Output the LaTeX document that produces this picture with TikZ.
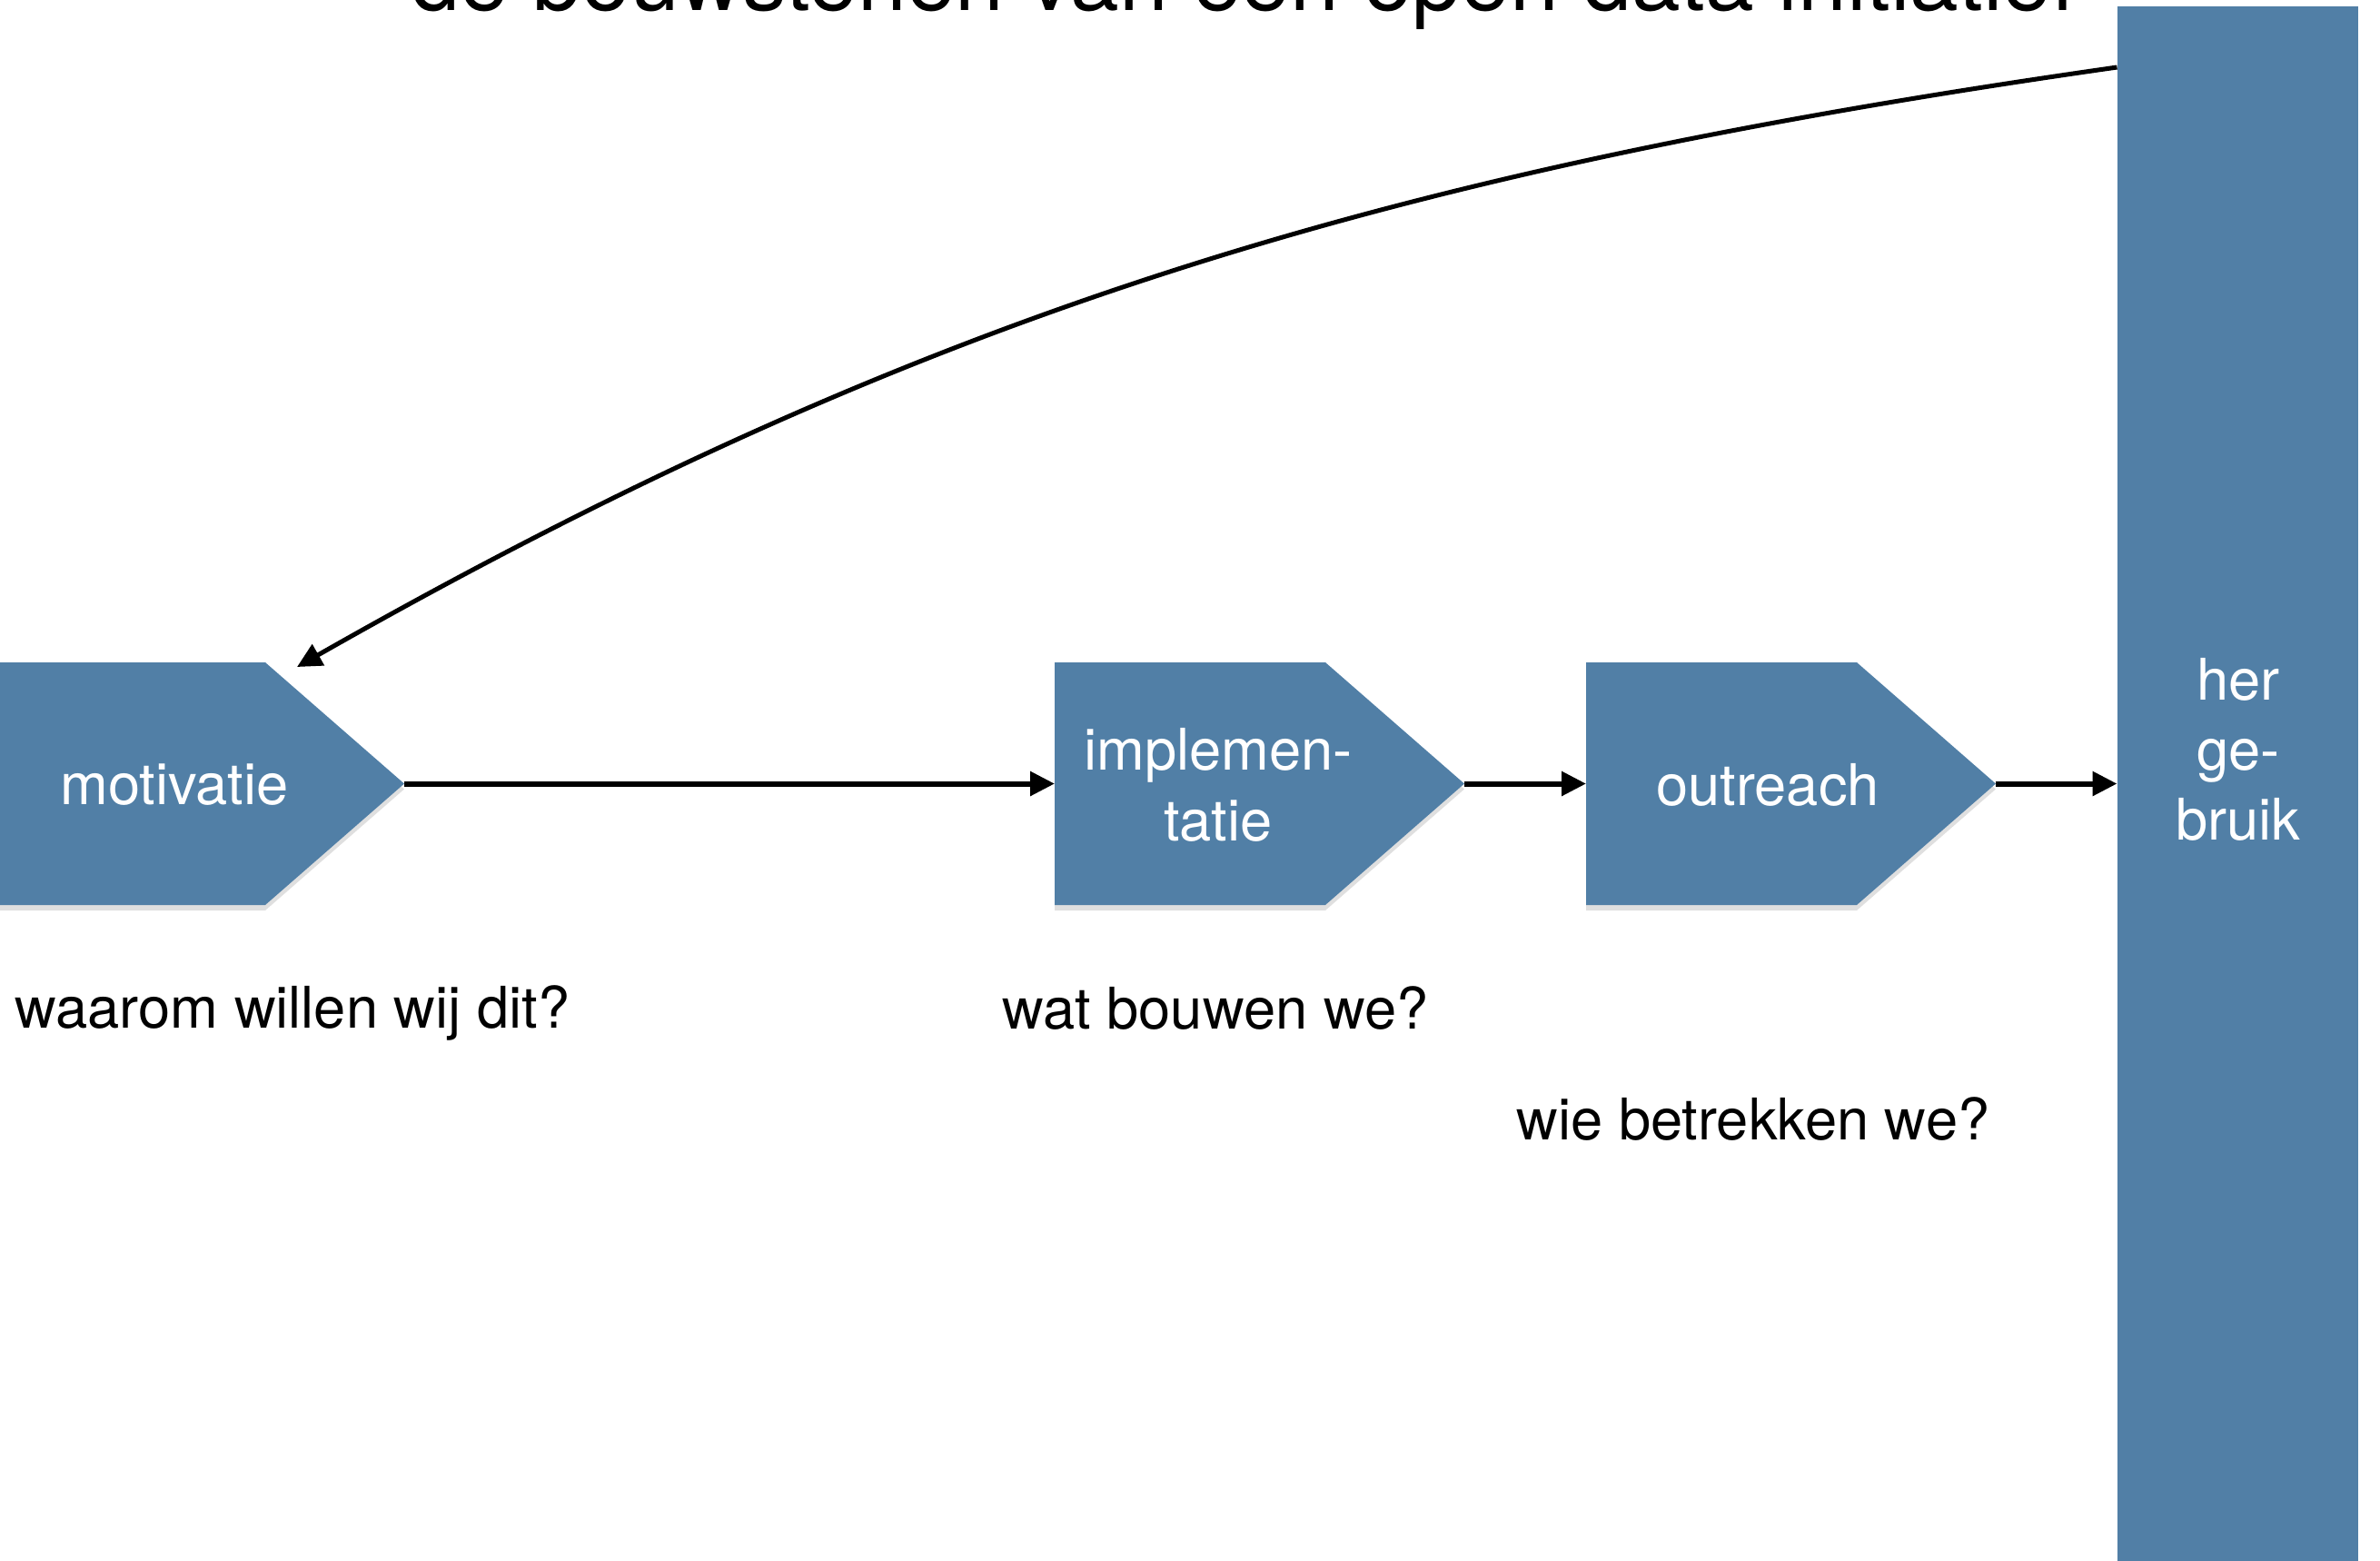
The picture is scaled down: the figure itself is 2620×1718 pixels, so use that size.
\documentclass[tikz,border=0pt]{standalone}
\usepackage{fontspec}
\setmainfont{TeX Gyre Heros}
\usetikzlibrary{arrows.meta, positioning, shadows}
\definecolor{stapblauw}{RGB}{81,127,166}

\begin{document}
\begin{tikzpicture}[x=0.1mm, y=-0.1mm,
    stap/.style={minimum width=29.8mm, minimum height=26.7mm, inner sep=0pt, outer sep=0pt},
    vorm/.style={fill=stapblauw, drop shadow={shadow xshift=0mm, shadow yshift=-0.6mm, opacity=0.25}},
    witlabel/.style={text=white, font=\fontsize{18}{22}\selectfont, align=center, inner sep=0pt},
    vraag/.style={font=\fontsize{18}{22}\selectfont, anchor=base, inner sep=0pt},
    pijl/.style={-{Triangle[length=2.7mm, width=2.6mm]}, line width=0.6mm},
    terugpijl/.style={pijl, line width=0.5mm}]
    \useasboundingbox (0,0) rectangle (2620,1718);

    % titel (valt deels buiten het beeld)
    \node[font=\fontsize{27.5}{33}\selectfont, anchor=base, inner sep=0pt] (titel) at (1369,11) {de bouwstenen van een open data initiatief};

    % hergebruik-balk
    \node[stap, vorm, minimum width=26.5mm, minimum height=171.1mm] (hergebruik) at (2463,862.5) {};
    \node[witlabel] (hergebruik-tekst) at (2464,825) {her\\ge-\\bruik};

    % stappen
    \foreach \naam/\x/\lx/\tekst in {mot/143/192/motivatie, impl/1310/1341/{implemen-\\tatie}, out/1895/1946/outreach} {
        \node[stap] (\naam) at (\x,862.5) {};
        \coordinate (\naam-punt) at ([xshift=15.3mm]\naam.east);
        \fill[vorm] (\naam.north west) -- (\naam.north east) -- (\naam-punt) -- (\naam.south east) -- (\naam.south west) -- cycle;
        \node[witlabel] (\naam-tekst) at (\lx,864) {\tekst};
    }

    % vragen
    \node[vraag] (waarom) at (322,1131) {waarom willen wij dit?};
    \node[vraag] (wat) at (1338,1132) {wat bouwen we?};
    \node[vraag] (wie) at (1930,1254) {wie betrekken we?};

    % pijlen
    \draw[pijl] (mot-punt) -- (impl.west);
    \draw[pijl] (impl-punt) -- (out.west);
    \draw[pijl] (out-punt) -- (hergebruik.west);
    \coordinate (terug-eind) at (327,734);
    \draw[terugpijl] ([yshift=-6.7mm]hergebruik.north west) .. controls (1539,187) and (1021,339) .. (terug-eind);
\end{tikzpicture}
\end{document}
